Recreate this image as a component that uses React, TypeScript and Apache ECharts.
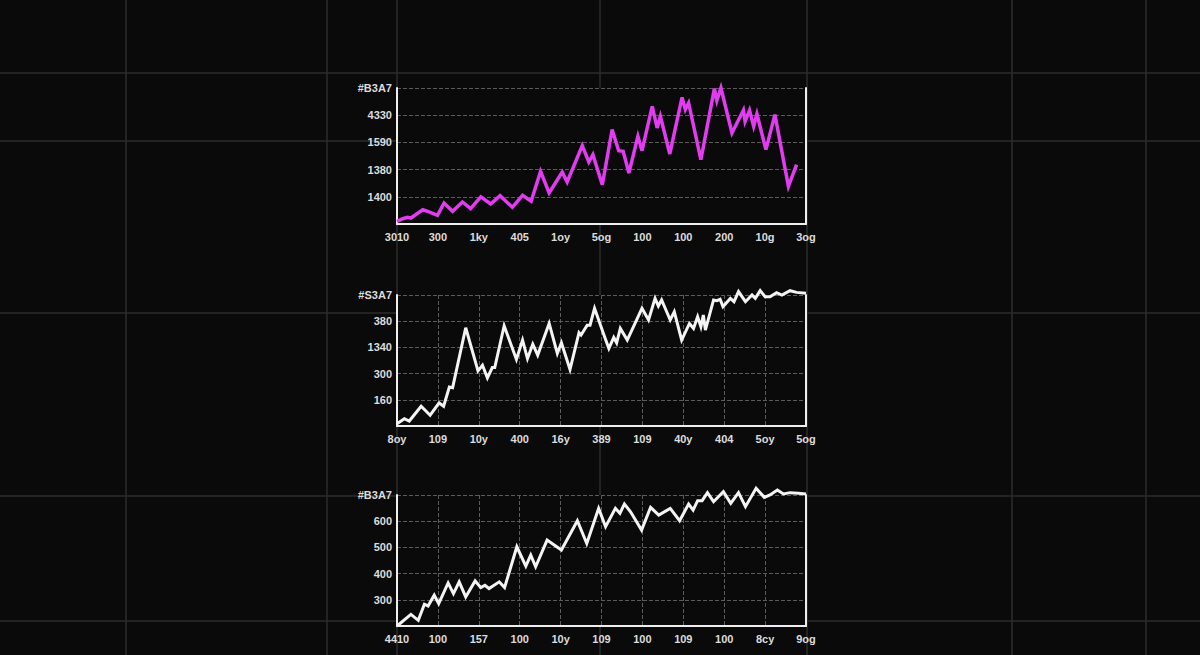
import React, { useEffect, useRef } from "react";
import * as echarts from "echarts";

// ---------- Data ----------
const xLabels1 = ["3010", "300", "1ky", "405", "1oy", "5og", "100", "100", "200", "10g", "3og"];
const yLabels1 = ["", "1400", "1380", "1590", "4330", "#B3A7"];
const xs1 = [0, 1.4, 2.6, 3.4, 6.3, 7.5, 9.9, 11.5, 13.6, 16.0, 18.0, 20.5, 22.9, 25.2, 28.2, 30.7, 32.8, 35.1, 37.2, 40.4, 41.6, 45.3, 46.9, 47.9, 50.2, 52.6, 54.2, 55.3, 56.7, 58.9, 59.9, 62.4, 63.6, 64.4, 66.7, 69.7, 70.5, 71.3, 74.3, 77.6, 78.2, 79.2, 81.9, 84.7, 85.1, 86.2, 87.2, 88.0, 90.2, 92.4, 95.7, 97.7];
const ys1 = [2.0, 3.9, 4.9, 4.4, 10.5, 9.3, 6.4, 15.4, 9.3, 16.2, 11.3, 19.9, 14.7, 20.8, 12.3, 21.1, 16.7, 38.7, 22.8, 38.2, 30.9, 57.6, 45.6, 51.0, 28.9, 69.4, 53.9, 53.4, 37.5, 64.5, 53.9, 86.5, 70.6, 79.2, 51.5, 93.1, 84.1, 89.0, 47.3, 99.5, 90.7, 100, 66.9, 83.6, 75.5, 83.6, 71.8, 80.9, 54.7, 80.4, 27.7, 43.6];

const xLabels2 = ["8oy", "109", "10y", "400", "16y", "389", "109", "40y", "404", "5oy", "5og"];
const yLabels2 = ["", "160", "300", "1340", "380", "#S3A7"];
const xs2 = [0, 1.8, 3.0, 5.9, 8.1, 10.3, 11.4, 12.8, 13.6, 16.8, 19.8, 20.9, 22.1, 23.3, 23.9, 26.2, 29.2, 30.7, 31.9, 33.2, 34.4, 37.2, 39.2, 40.2, 42.3, 44.5, 45.0, 46.5, 47.2, 48.3, 50.6, 51.8, 53.0, 53.7, 54.6, 56.3, 59.9, 61.5, 63.1, 63.9, 64.7, 66.8, 67.8, 69.6, 71.5, 72.5, 73.5, 74.3, 74.9, 75.4, 77.4, 78.2, 79.0, 79.7, 81.5, 82.4, 83.5, 85.2, 86.8, 87.6, 88.8, 90.0, 91.2, 92.8, 94.1, 96.1, 97.7, 100];
const ys2 = [1.8, 5.6, 3.8, 15.1, 8.2, 17.6, 15.1, 29.8, 29.3, 75.0, 42.1, 46.4, 36.7, 44.6, 44.6, 76.5, 50.8, 65.6, 51.5, 62.5, 54.1, 78.3, 55.4, 63.5, 43.1, 71.2, 69.4, 77.0, 77.0, 89.8, 69.4, 59.2, 67.6, 63.5, 74.5, 65.6, 89.8, 80.9, 97.4, 91.6, 96.2, 80.9, 87.2, 65.6, 78.3, 74.5, 83.4, 75.8, 84.7, 73.2, 96.2, 95.7, 96.7, 91.1, 97.4, 94.9, 102.6, 94.9, 100, 97.4, 103.3, 98.7, 98.7, 101.8, 100, 103.3, 102, 101.3];

const xLabels3 = ["4410", "100", "157", "100", "10y", "109", "100", "109", "100", "8cy", "9og"];
const yLabels3 = ["", "300", "400", "500", "600", "#B3A7"];
const xs3 = [0, 3.4, 5.2, 6.7, 7.6, 9.1, 10.2, 12.5, 13.8, 15.2, 16.8, 19.1, 20.5, 21.5, 22.5, 25.0, 26.3, 29.3, 31.5, 32.7, 33.9, 36.7, 40.2, 44.1, 46.4, 49.3, 51.0, 53.4, 54.5, 55.6, 57.1, 59.8, 62.0, 64.0, 66.8, 69.1, 71.3, 72.4, 73.5, 74.6, 75.9, 77.4, 79.8, 81.6, 83.5, 85.2, 87.8, 89.8, 91.2, 93.0, 94.5, 96.1, 98.1, 100];
const ys3 = [0, 8.9, 4.3, 16.6, 15.3, 23.5, 17.1, 32.9, 24.7, 33.7, 22.2, 34.4, 29.3, 31.1, 28.6, 33.7, 29.3, 60.5, 45.7, 54.1, 45.2, 65.6, 58.0, 80.4, 63.0, 89.8, 75.8, 89.8, 86.0, 93.1, 87.2, 73.2, 90.6, 84.7, 89.8, 80.4, 93.1, 88.5, 95.7, 95.7, 101.8, 94.9, 102.6, 93.6, 101.8, 91.1, 105.1, 98.2, 100, 103.8, 100.8, 101.8, 101.3, 100.8];

const bgVertical = [126, 327, 397, 600, 807, 1012, 1146];
const bgHorizontal = [73, 141, 313, 496, 621];

// ---------- Component ----------
export default function App() {
  const ref = useRef<HTMLDivElement>(null);

  useEffect(() => {
    document.body.style.margin = "0";
    document.body.style.background = "#0a0a0a";
    const chart = echarts.init(ref.current!, undefined, { renderer: "svg" });

    const panels = [
      { top: 88, height: 136, xl: xLabels1, yl: yLabels1, xs: xs1, ys: ys1, color: "#e23cf0", vgrid: false, width: 3.5 },
      { top: 295, height: 131, xl: xLabels2, yl: yLabels2, xs: xs2, ys: ys2, color: "#f4f4f4", vgrid: true, width: 3 },
      { top: 495, height: 131, xl: xLabels3, yl: yLabels3, xs: xs3, ys: ys3, color: "#f4f4f4", vgrid: true, width: 3 },
    ];

    const labelStyle = {
      color: "#dcdcdc",
      fontSize: 11,
      fontWeight: "bold" as const,
      fontFamily: "Liberation Sans, sans-serif",
    };
    const dashed = { show: true, lineStyle: { color: "#5c5c5c", type: "dashed" as const, width: 1 } };
    const whiteLine = { show: true, lineStyle: { color: "#eeeeee", width: 2 } };

    const grid: any[] = [];
    const xAxis: any[] = [];
    const yAxis: any[] = [];
    const series: any[] = [];

    panels.forEach((p, i) => {
      grid.push({
        left: 397,
        width: 409,
        top: p.top,
        height: p.height,
        show: true,
        backgroundColor: "#0a0a0a",
        borderWidth: 0,
      });
      xAxis.push({
        type: "value",
        gridIndex: i,
        min: 0,
        max: 100,
        interval: 10,
        axisLine: whiteLine,
        axisTick: { show: false },
        splitLine: p.vgrid ? dashed : { show: false },
        axisLabel: {
          ...labelStyle,
          margin: 7,
          formatter: (v: number) => p.xl[Math.round(v / 10)] ?? "",
        },
      });
      yAxis.push({
        type: "value",
        gridIndex: i,
        min: 0,
        max: 100,
        interval: 20,
        axisLine: whiteLine,
        axisTick: { show: false },
        splitLine: dashed,
        axisLabel: {
          ...labelStyle,
          margin: 5,
          formatter: (v: number) => p.yl[Math.round(v / 20)] ?? "",
        },
      });
      yAxis.push({
        type: "value",
        gridIndex: i,
        position: "right",
        min: 0,
        max: 100,
        interval: 20,
        axisLine: whiteLine,
        axisTick: { show: false },
        axisLabel: { show: false },
        splitLine: { show: false },
      });
      series.push({
        type: "line",
        xAxisIndex: i,
        yAxisIndex: i * 2,
        data: p.xs.map((x, k) => [x, p.ys[k]]),
        showSymbol: false,
        symbol: "none",
        clip: false,
        lineStyle: { color: p.color, width: p.width, join: "miter" },
        z: 5,
      });
    });

    const bgLines: any[] = [];
    bgVertical.forEach((x) =>
      bgLines.push({ type: "line", z: -10, shape: { x1: x, y1: 0, x2: x, y2: 655 }, style: { stroke: "#2c2c2c", lineWidth: 1.5 } })
    );
    bgHorizontal.forEach((y) =>
      bgLines.push({ type: "line", z: -10, shape: { x1: 0, y1: y, x2: 1200, y2: y }, style: { stroke: "#2c2c2c", lineWidth: 1.5 } })
    );

    chart.setOption({
      animation: false,
      backgroundColor: "#0a0a0a",
      graphic: [{ type: "group", z: -10, children: bgLines }],
      grid,
      xAxis,
      yAxis,
      series,
    });

    return () => chart.dispose();
  }, []);

  return (
    <div
      ref={ref}
      style={{ position: "fixed", left: 0, top: 0, width: 1200, height: 655 }}
    />
  );
}
